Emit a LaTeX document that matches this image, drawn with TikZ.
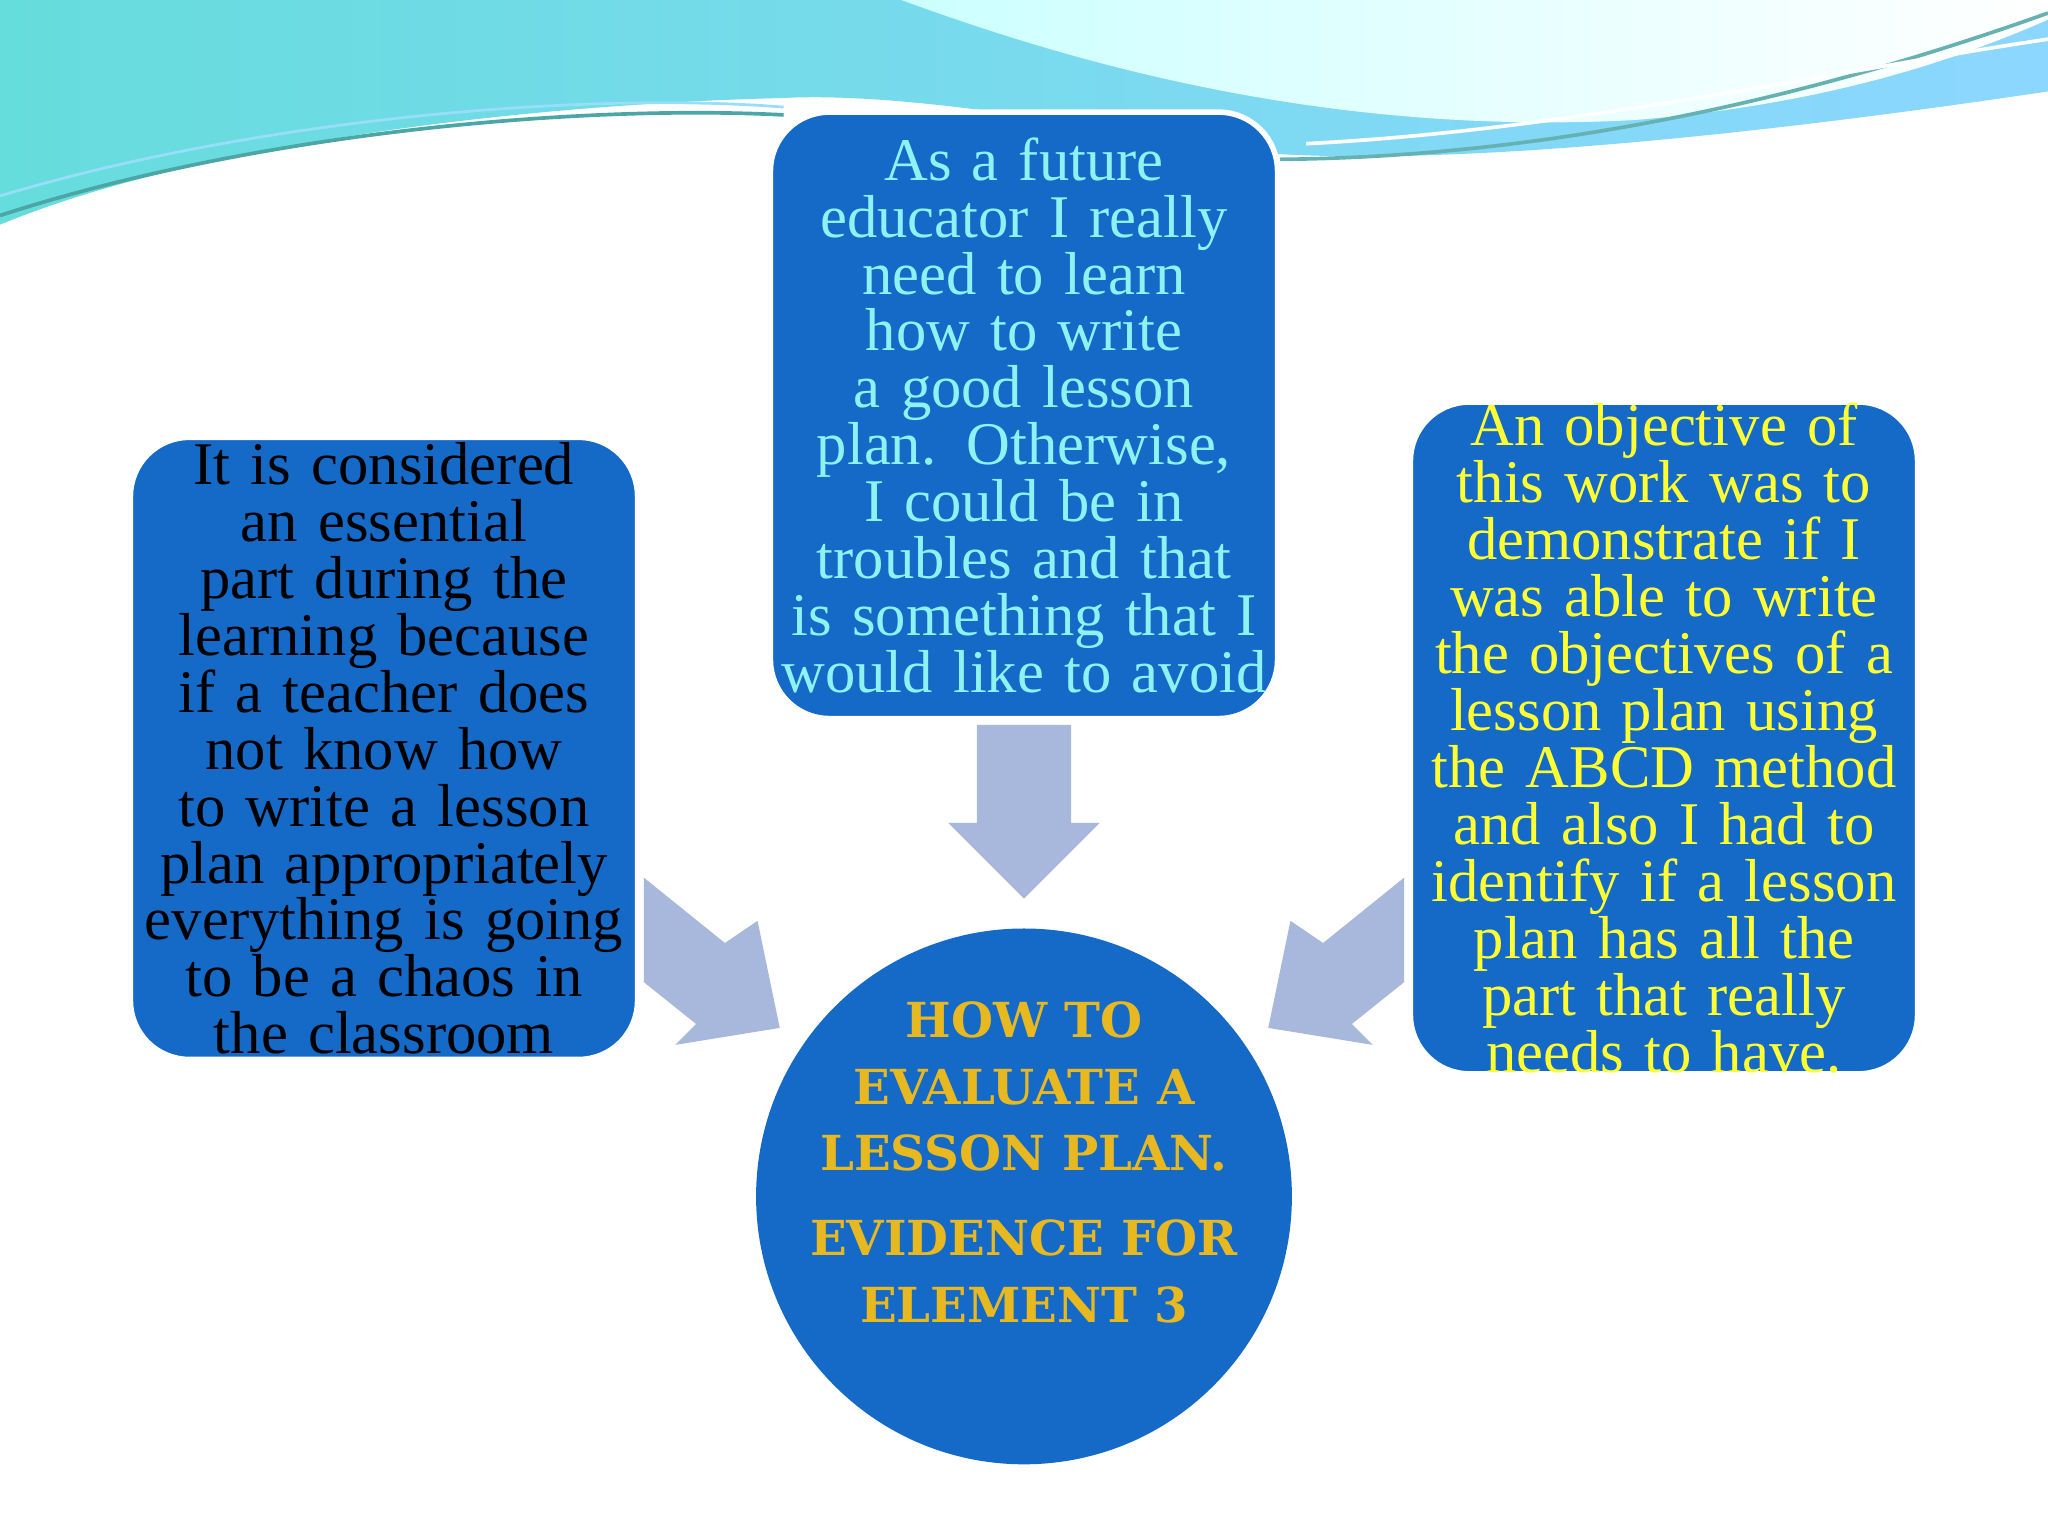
\documentclass[tikz,border=0pt]{standalone}
\usepackage{fontspec}
\setmainfont{Liberation Serif}
\newfontfamily\deco{DejaVu Serif}
\begin{document}
\begin{tikzpicture}[x=0.01cm,y=-0.01cm,
  bluebox/.style={draw=white,line width=1.2pt,fill=boxblue,rounded corners=0.45cm,inner sep=0pt},
  btext/.style={align=center,font=\fontsize{13.2}{12.4}\selectfont,text width=3.75cm},
  arr/.style={fill=arrblue,draw=none}]
\definecolor{boxblue}{HTML}{1569C7}
\definecolor{arrblue}{HTML}{A8B8DD}
\definecolor{aqua}{HTML}{8EF2F2}
\definecolor{yel}{HTML}{FFFF33}
\definecolor{gold}{HTML}{E8B820}
\useasboundingbox (0,0) rectangle (1568,1176);
\fill[white!96!blue!2] (0,0) rectangle (1568,1176);
% waves
\shade[left color=cyan!55!teal!60, right color=blue!35!cyan!45]
 (0,0) -- (1568,0) -- (1568,70) .. controls (1300,110) and (1100,125) .. (980,118)
 .. controls (850,100) and (700,70) .. (600,75) .. controls (400,80) and (150,110) .. (0,172) -- cycle;
\shade[left color=cyan!20, right color=white] (690,0) .. controls (800,40) and (1000,105) .. (1250,92)
 .. controls (1400,80) and (1500,45) .. (1568,15) -- (1568,0) -- cycle;
\draw[teal!70,line width=0.8pt] (0,165) .. controls (200,100) and (450,80) .. (600,88);
\draw[cyan!40,line width=0.6pt] (0,150) .. controls (200,90) and (450,70) .. (600,82);
\draw[teal!60,line width=0.8pt] (980,122) .. controls (1200,120) and (1400,70) .. (1568,10);
\draw[white,line width=0.8pt] (1000,110) .. controls (1200,100) and (1400,55) .. (1568,30);
% boxes
\node[bluebox,minimum width=3.88cm,minimum height=4.64cm] (c) at (784,318) {};
\node[btext,text=aqua] at (c.center) {As a future educator I really need to learn how to write a good lesson plan. Otherwise, I could be in troubles and that is something that I would like to avoid};
\node[bluebox,minimum width=3.88cm,minimum height=4.76cm] (l) at (294,573) {};
\node[btext,text=black] at (l.center) {It is considered an essential part during the learning because if a teacher does not know how to write a lesson plan appropriately everything is going to be a chaos in the classroom};
\node[bluebox,minimum width=3.88cm,minimum height=5.14cm] (r) at (1274,565) {};
\node[btext,text=yel] at (r.center) {An objective of this work was to demonstrate if I was able to write the objectives of a lesson plan using the ABCD method and also I had to identify if a lesson plan has all the part that really needs to have.};
% circle
\node[circle,fill=boxblue,minimum size=4.1cm,inner sep=0pt] (m) at (784,916) {};
\node[align=center,text=gold,font=\deco\bfseries\fontsize{10.5}{14.5}\selectfont] at (784,890)
 {HOW TO\\EVALUATE A\\LESSON PLAN.\\[4pt]EVIDENCE FOR\\ELEMENT 3};
% arrows
\fill[arr] (748,555) -- (820,555) -- (820,630) -- (842,630) -- (784,688) -- (726,630) -- (748,630) -- cycle;
\fill[arr] (493,672) -- (555,722) -- (580,705) -- (597,787) -- (517,800) -- (533,784) -- (493,752) -- cycle;
\fill[arr] (1075,672) -- (1013,722) -- (988,705) -- (971,787) -- (1051,800) -- (1035,784) -- (1075,752) -- cycle;
\end{tikzpicture}
\end{document}
